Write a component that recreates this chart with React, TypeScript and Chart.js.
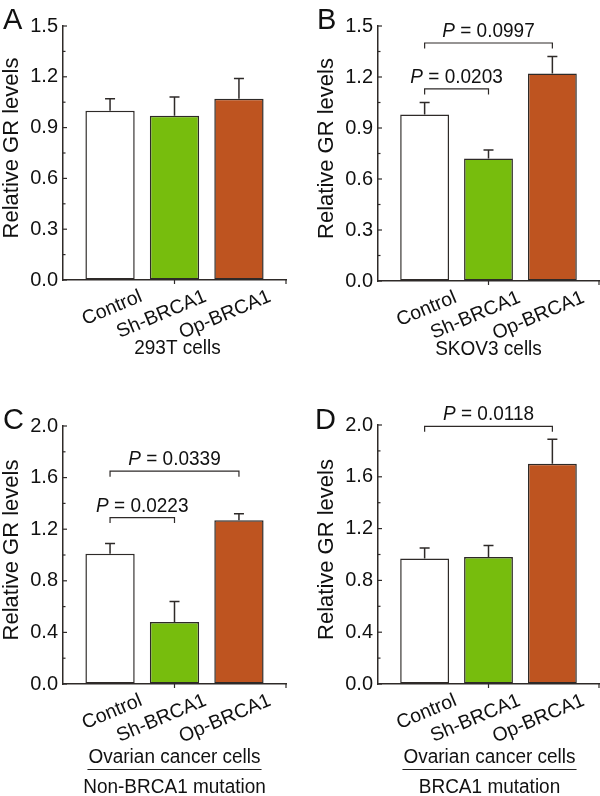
import React, { useEffect, useRef } from "react";
import { Chart, registerables } from "chart.js";

Chart.register(...registerables);

// ---------- data ----------
const categories = ["Control", "Sh-BRCA1", "Op-BRCA1"];
const barColors = ["#ffffff", "#77bd0d", "#be5420"];

const valuesA = [1.0, 0.97, 1.07];
const errorsA = [0.07, 0.11, 0.12];
const valuesB = [0.98, 0.72, 1.22];
const errorsB = [0.07, 0.05, 0.1];
const valuesC = [1.01, 0.48, 1.27];
const errorsC = [0.08, 0.16, 0.05];
const valuesD = [0.97, 0.98, 1.7];
const errorsD = [0.08, 0.09, 0.19];

const yTicksAB = [0, 0.3, 0.6, 0.9, 1.2, 1.5];
const yTicksCD = [0, 0.4, 0.8, 1.2, 1.6, 2.0];

const bracketsA: Bracket[] = [];
const bracketsB: Bracket[] = [
  { from: 0, to: 1, y: 1.13, p: "0.0203" },
  { from: 0, to: 2, y: 1.40, p: "0.0997" },
];
const bracketsC: Bracket[] = [
  { from: 0, to: 1, y: 1.29, p: "0.0223" },
  { from: 0, to: 2, y: 1.65, p: "0.0339" },
];
const bracketsD: Bracket[] = [{ from: 0, to: 2, y: 1.99, p: "0.0118" }];

const subtitleA = ["293T cells"];
const subtitleB = ["SKOV3 cells"];
const subtitleC = ["Ovarian cancer cells", "Non-BRCA1 mutation"];
const subtitleD = ["Ovarian cancer cells", "BRCA1 mutation"];

const yTitle = "Relative GR levels";

// ---------- styles ----------
type Bracket = { from: number; to: number; y: number; p: string };

const FONT = "'Liberation Sans', Arial, Helvetica, sans-serif";
const TEXT = "#111111";
const AXIS = "#2e2a28";
const STRETCH = 1.08;

type PanelSpec = {
  letter: string;
  left: number;
  top: number;
  width: number;
  height: number;
  axisX: number;
  plotRight: number;
  plotTop: number;
  plotBottom: number;
  letterX: number;
  subShift: number;
  values: number[];
  errors: number[];
  yTicks: number[];
  brackets: Bracket[];
  subtitle: string[];
};

const panels: PanelSpec[] = [
  { letter: "A", left: 0, top: 0, width: 300, height: 400, axisX: 63, plotRight: 286, plotTop: 26, plotBottom: 280, letterX: 3, subShift: 3, values: valuesA, errors: errorsA, yTicks: yTicksAB, brackets: bracketsA, subtitle: subtitleA },
  { letter: "B", left: 300, top: 0, width: 300, height: 400, axisX: 78, plotRight: 299, plotTop: 26, plotBottom: 281, letterX: 17, subShift: 0, values: valuesB, errors: errorsB, yTicks: yTicksAB, brackets: bracketsB, subtitle: subtitleB },
  { letter: "C", left: 0, top: 400, width: 300, height: 396, axisX: 63, plotRight: 286, plotTop: 26, plotBottom: 284, letterX: 3, subShift: 0, values: valuesC, errors: errorsC, yTicks: yTicksCD, brackets: bracketsC, subtitle: subtitleC },
  { letter: "D", left: 300, top: 400, width: 300, height: 396, axisX: 78, plotRight: 299, plotTop: 25, plotBottom: 284, letterX: 15, subShift: 1, values: valuesD, errors: errorsD, yTicks: yTicksCD, brackets: bracketsD, subtitle: subtitleD },
];

// text drawn with a slight vertical stretch (baseline fixed)
function tallText(ctx: CanvasRenderingContext2D, s: string, x: number, y: number) {
  ctx.save();
  ctx.translate(x, y);
  ctx.scale(1, STRETCH);
  ctx.fillText(s, 0, 0);
  ctx.restore();
}

function makeDecor(spec: PanelSpec) {
  return {
    id: "decor" + spec.letter,
    afterDatasetsDraw(chart: any) {
      const ctx = chart.ctx as CanvasRenderingContext2D;
      const xs = chart.scales.x;
      const ys = chart.scales.y;
      ctx.save();
      ctx.strokeStyle = AXIS;
      ctx.lineWidth = 1.5;
      spec.values.forEach((v, i) => {
        const x = xs.getPixelForValue(i);
        const y0 = ys.getPixelForValue(v);
        const y1 = ys.getPixelForValue(v + spec.errors[i]);
        ctx.beginPath();
        ctx.moveTo(x, y0);
        ctx.lineTo(x, y1);
        ctx.moveTo(x - 5, y1);
        ctx.lineTo(x + 5, y1);
        ctx.stroke();
      });
      ctx.restore();
    },
    afterDraw(chart: any) {
      const ctx = chart.ctx as CanvasRenderingContext2D;
      const xs = chart.scales.x;
      const ys = chart.scales.y;
      const area = chart.chartArea;
      ctx.save();
      // y ticks (inward)
      ctx.strokeStyle = AXIS;
      ctx.lineWidth = 1.2;
      const t = spec.yTicks;
      for (let i = 0; i < t.length; i++) {
        const y = ys.getPixelForValue(t[i]);
        ctx.beginPath();
        ctx.moveTo(area.left, y);
        ctx.lineTo(area.left + 4, y);
        ctx.stroke();
        if (i < t.length - 1) {
          const ym = ys.getPixelForValue((t[i] + t[i + 1]) / 2);
          ctx.beginPath();
          ctx.moveTo(area.left, ym);
          ctx.lineTo(area.left + 2.5, ym);
          ctx.stroke();
        }
      }
      // x ticks (outward) at middle and right end
      [xs.getPixelForValue(1), area.right].forEach((x: number) => {
        ctx.beginPath();
        ctx.moveTo(x, area.bottom);
        ctx.lineTo(x, area.bottom + 4);
        ctx.stroke();
      });

      // brackets
      ctx.fillStyle = TEXT;
      ctx.strokeStyle = AXIS;
      ctx.lineWidth = 1.2;
      spec.brackets.forEach((b) => {
        const x1 = xs.getPixelForValue(b.from);
        const x2 = xs.getPixelForValue(b.to);
        const y = ys.getPixelForValue(b.y);
        ctx.beginPath();
        ctx.moveTo(x1, y + 5.5);
        ctx.lineTo(x1, y);
        ctx.lineTo(x2, y);
        ctx.lineTo(x2, y + 5.5);
        ctx.stroke();
        const cx = (x1 + x2) / 2;
        const italic = "italic 19px " + FONT;
        const normal = "19px " + FONT;
        const rest = " = " + b.p;
        ctx.font = italic;
        const wP = ctx.measureText("P").width;
        ctx.font = normal;
        const wR = ctx.measureText(rest).width;
        const sx = cx - (wP + wR) / 2;
        ctx.textAlign = "left";
        ctx.textBaseline = "alphabetic";
        ctx.font = italic;
        tallText(ctx, "P", sx, y - 6);
        ctx.font = normal;
        tallText(ctx, rest, sx + wP, y - 6);
      });

      // panel letter
      ctx.font = "29px " + FONT;
      ctx.textAlign = "left";
      ctx.textBaseline = "alphabetic";
      ctx.fillText(spec.letter, spec.letterX, 28.5);

      // y title
      ctx.save();
      ctx.font = "22px " + FONT;
      ctx.translate(area.left - 45, (area.top + area.bottom) / 2 - 5);
      ctx.rotate(-Math.PI / 2);
      ctx.textAlign = "center";
      ctx.textBaseline = "alphabetic";
      ctx.fillText(yTitle, 0, 0);
      ctx.restore();

      // subtitle(s)
      const cx = xs.getPixelForValue(1) + spec.subShift;
      ctx.font = "19px " + FONT;
      ctx.textAlign = "center";
      ctx.textBaseline = "alphabetic";
      if (spec.subtitle.length === 1) {
        tallText(ctx, spec.subtitle[0], cx, area.bottom + 74);
      } else {
        tallText(ctx, spec.subtitle[0], cx, area.bottom + 79);
        const w = ctx.measureText(spec.subtitle[0]).width;
        ctx.lineWidth = 1;
        ctx.strokeStyle = "#222";
        ctx.beginPath();
        ctx.moveTo(cx - w / 2 - 1, area.bottom + 85.5);
        ctx.lineTo(cx + w / 2 + 1, area.bottom + 85.5);
        ctx.stroke();
        tallText(ctx, spec.subtitle[1], cx, area.bottom + 109);
      }
      ctx.restore();
    },
  };
}

function Panel({ spec }: { spec: PanelSpec }) {
  const ref = useRef<HTMLCanvasElement | null>(null);
  useEffect(() => {
    const canvas = ref.current;
    if (!canvas) return;
    const chart = new Chart(canvas, {
      type: "bar",
      data: {
        datasets: [
          {
            data: spec.values.map((v, i) => ({ x: i, y: v })) as any,
            backgroundColor: barColors,
            borderColor: AXIS,
            borderWidth: 1.5,
            borderSkipped: false,
            barPercentage: 0.765,
            categoryPercentage: 1,
          } as any,
        ],
      },
      options: {
        responsive: false,
        animation: false,
        devicePixelRatio: 1,
        events: [],
        layout: {
          padding: { left: 0, top: spec.plotTop, right: spec.width - spec.plotRight, bottom: 0 },
        },
        plugins: {
          legend: { display: false },
          tooltip: { enabled: false },
          title: { display: false },
        },
        scales: {
          x: {
            type: "linear",
            min: -0.73,
            max: 2.73,
            offset: false,
            grid: { display: true, drawOnChartArea: false, drawTicks: false, offset: false },
            border: { display: true, color: AXIS, width: 1.5 },
            ticks: {
              autoSkip: false,
              minRotation: 23,
              maxRotation: 23,
              labelOffset: 31,
              padding: 5,
              color: TEXT,
              font: { family: FONT, size: 19.5 },
              callback: (v: any) => categories[Number(v)] ?? "",
            },
            afterBuildTicks: (s: any) => {
              s.ticks = categories.map((_, i) => ({ value: i }));
            },
            afterFit: (s: any) => {
              s.height = spec.height - spec.plotBottom;
            },
          } as any,
          y: {
            type: "linear",
            min: 0,
            max: spec.yTicks[spec.yTicks.length - 1],
            grid: { display: true, drawOnChartArea: false, drawTicks: false },
            border: { display: true, color: AXIS, width: 1.5 },
            ticks: {
              padding: 5,
              color: TEXT,
              font: { family: FONT, size: 20 },
              callback: (v: any) => Number(v).toFixed(1),
            },
            afterBuildTicks: (s: any) => {
              s.ticks = spec.yTicks.map((v) => ({ value: v }));
            },
            afterFit: (s: any) => {
              s.width = spec.axisX;
            },
          } as any,
        },
      },
      plugins: [makeDecor(spec)],
    });
    return () => chart.destroy();
  }, [spec]);
  return (
    <canvas
      ref={ref}
      width={spec.width}
      height={spec.height}
      style={{ position: "absolute", left: spec.left, top: spec.top, width: spec.width, height: spec.height }}
    />
  );
}

export default function App() {
  return (
    <div style={{ position: "absolute", left: 0, top: 0, width: 600, height: 796, background: "#ffffff", overflow: "hidden" }}>
      {panels.map((p) => (
        <Panel key={p.letter} spec={p} />
      ))}
    </div>
  );
}
